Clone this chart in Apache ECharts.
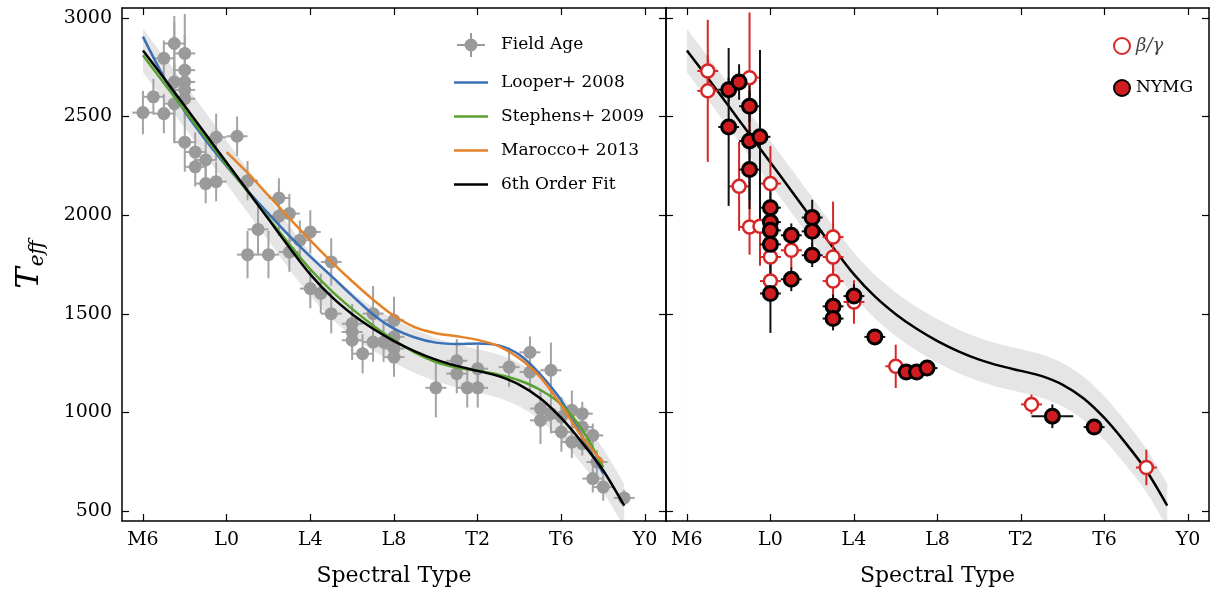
<!DOCTYPE html>
<html><head><meta charset="utf-8">
<script src="https://cdn.jsdelivr.net/npm/echarts@6/dist/echarts.min.js"></script>
<style>html,body{margin:0;padding:0;background:#fff}#c{width:1212px;height:594px}</style>
</head><body><div id="c"></div>
<script>
// ---- tick labels ----
const xTickValues = [6, 10, 14, 18, 22, 26, 30];
const xTickLabels = ['M6', 'L0', 'L4', 'L8', 'T2', 'T6', 'Y0'];
const yTickValues = [500, 1000, 1500, 2000, 2500, 3000];

// ---- field age sample (spectral type number: M6=6, L0=10, T0=20, Y0=30) ----
const fieldSpT = [6,6.5,7,7,7.5,7.5,7.5,8,8,8,8,8,8,8.5,8.5,9,9,9.5,9.5,10.5,11,12.5,12.5,13,11.5,11,12,13,14,13.5,15,14,14.5,15,16,16,16,17,17,16.5,17.5,18,18,18,18,20,21,21,21.5,22,22,23.5,24.5,24.5,25.5,25,25,25.5,26,26,26.5,26.5,27,27,27,27.5,27.7,27.5,28,29];
const fieldTeff = [2520,2600,2515,2795,2870,2675,2565,2820,2735,2675,2635,2590,2370,2320,2245,2280,2160,2170,2395,2400,2175,2087,1995,2008,1928,1800,1800,1813,1915,1873,1763,1628,1603,1501,1450,1408,1366,1501,1357,1298,1357,1467,1383,1324,1281,1125,1262,1197,1125,1222,1125,1230,1305,1205,1214,1020,960,994,977,901,1011,850,994,926,842,884,749,665,622,567];
const fieldSpTErr = [0.5,0.5,0.5,0.5,0.5,0.5,0.5,0.5,0.5,0.5,0.5,0.5,0.5,0.5,0.5,0.5,0.5,0.5,0.5,0.5,0.5,0.5,0.5,0.5,0.5,0.5,0.5,0.5,0.5,0.5,0.5,0.5,0.5,0.5,0.5,0.5,0.5,0.5,0.5,0.5,0.5,0.5,0.5,0.5,0.5,0.5,0.5,0.5,0.5,0.5,0.5,0.5,0.5,0.5,0.5,0.5,0.5,0.5,0.5,0.5,0.5,0.5,0.5,0.5,0.5,0.5,0.5,0.5,0.5,0.5];
const fieldTeffErr = [110,90,100,90,140,300,200,200,180,100,100,100,150,100,100,120,100,100,120,100,100,100,100,100,130,120,120,100,110,100,120,100,100,100,100,100,100,140,100,100,100,120,100,100,100,150,110,100,100,120,100,100,80,100,140,100,120,100,100,100,100,80,60,80,60,60,60,70,70,40];

// ---- published relations ----
const looperSpT = [6,7,8,9,10,11,12,13,14,15,16,17,18,19,20,21,22,23,24,25,26,27,28];
const looperTeff = [2905,2700,2525,2380,2248,2125,2008,1895,1790,1692,1592,1497,1425,1380,1354,1347,1350,1340,1292,1192,1060,875,690];
const stephensSpT = [6,7,8,9,10,11,12,13,14,15,16,17,18,19,20,21,22,23,24,25,26,27,28];
const stephensTeff = [2810,2670,2530,2392,2255,2120,1985,1852,1726,1618,1525,1441,1367,1303,1256,1228,1212,1192,1162,1114,1040,912,722];
const maroccoSpT = [10,11,12,13,14,15,16,17,18,19,20,21,22,23,24,25,26,27,28];
const maroccoTeff = [2320,2215,2100,1985,1872,1765,1665,1572,1490,1432,1402,1386,1368,1336,1273,1178,1035,875,745];

// ---- 6th order fit and its scatter band ----
const fitSpT = [6,7,8,9,10,11,12,13,14,15,16,17,18,19,20,21,22,23,24,25,26,27,28,29];
const fitTeff = [2835,2695,2553,2410,2267,2124,1980,1836,1700,1588,1498,1424,1362,1310,1268,1236,1211,1184,1140,1071,971,846,706,528];
const bandUpper = [2945,2805,2663,2520,2377,2234,2090,1946,1810,1698,1608,1534,1472,1420,1378,1346,1321,1294,1250,1181,1081,956,816,638];
const bandLower = [2725,2585,2443,2300,2157,2014,1870,1726,1590,1478,1388,1314,1252,1200,1158,1126,1101,1074,1030,961,861,736,596,418];

// ---- low gravity objects ----
const bgSpT = [7,7,9,8.5,10,9,9.5,13,13,10,10,11,13,14,16,22.5,28];
const bgTeff = [2731,2630,2697,2146,2160,1940,1944,1889,1788,1788,1666,1822,1666,1560,1234,1041,721];
const bgSpTErr = [0.5,0.5,0.5,0.5,0.5,0.5,0.5,0.5,0.5,0.5,0.5,0.5,0.5,0.5,0.5,0.5,0.5];
const bgTeffErr = [80,360,330,225,190,140,200,180,100,100,100,90,100,110,110,50,90];

const nymgSpT = [8,8.5,9,8,9,9.5,9,10,10,10,10,10,11,11,12,12,12,13,13,14,15,16.5,17,17.5,23.5,25.5];
const nymgTeff = [2636,2675,2552,2447,2376,2397,2231,2038,1965,1923,1852,1603,1898,1675,1988,1918,1797,1538,1476,1590,1383,1205,1205,1225,981,926];
const nymgSpTErr = [0.5,0.5,0.5,0.5,0.5,0.5,0.5,0.5,0.5,0.5,0.5,0.5,0.5,0.5,0.5,0.5,0.5,0.5,0.5,0.5,0.5,0.5,0.5,0.5,1,0.5];
const nymgTeffErr = [60,90,80,400,300,440,200,100,100,100,100,200,60,60,90,80,60,60,60,60,40,30,30,30,60,30];

const FONT = 'DejaVu Serif';
const zip = (a, b) => a.map((v, i) => [v, b[i]]);

function errSeries(xi, yi, xs, ys, xe, ye, color) {
  return {
    type: 'custom', xAxisIndex: xi, yAxisIndex: yi, silent: true, clip: true,
    data: xs.map((x, i) => [x, ys[i], xe[i], ye[i]]),
    encode: { x: 0, y: 1 },
    renderItem(params, api) {
      const x = api.value(0), y = api.value(1), dx = api.value(2), dy = api.value(3);
      const a = api.coord([x - dx, y]), b = api.coord([x + dx, y]);
      const c = api.coord([x, y - dy]), d = api.coord([x, y + dy]);
      return { type: 'group', children: [
        { type: 'line', shape: { x1: a[0], y1: a[1], x2: b[0], y2: b[1] }, style: { stroke: color, lineWidth: 2 } },
        { type: 'line', shape: { x1: c[0], y1: c[1], x2: d[0], y2: d[1] }, style: { stroke: color, lineWidth: 2 } }
      ] };
    }
  };
}
function bandSeries(xi, yi, vals, color) {
  return { type: 'line', xAxisIndex: xi, yAxisIndex: yi, data: zip(fitSpT, vals), smooth: 0.3,
    symbol: 'none', silent: true, lineStyle: { width: 0, opacity: 0 },
    areaStyle: { color: color, opacity: 1, origin: 'start' }, z: 1 };
}
function curve(name, xs, ys, color, xi, yi) {
  return { name, type: 'line', xAxisIndex: xi, yAxisIndex: yi, data: zip(xs, ys), smooth: 0.3,
    symbol: 'none', lineStyle: { color, width: 2.5 }, itemStyle: { color }, z: 4 };
}
function xAx(grid, pos, labels) {
  return { type: 'value', gridIndex: grid, position: pos, min: 5, max: 31, z: 6,
    axisLine: { show: true, onZero: false, lineStyle: { color: '#000', width: 1.5 } },
    axisTick: { show: true, inside: true, length: 7, customValues: xTickValues, lineStyle: { color: '#000', width: 1.2 } },
    axisLabel: { show: labels, customValues: xTickValues, margin: 10, color: '#000', fontFamily: FONT, fontSize: 19,
      formatter: v => xTickLabels[xTickValues.indexOf(v)] },
    splitLine: { show: false },
    name: labels ? 'Spectral Type' : '', nameLocation: 'middle', nameGap: 44,
    nameTextStyle: { color: '#000', fontFamily: FONT, fontSize: 22 } };
}
function yAx(grid, pos, labels, name) {
  return { type: 'value', gridIndex: grid, position: pos, min: 450, max: 3050, z: 6,
    axisLine: { show: true, onZero: false, lineStyle: { color: '#000', width: 1.5 } },
    axisTick: { show: true, inside: true, length: 7, customValues: yTickValues, lineStyle: { color: '#000', width: 1.2 } },
    axisLabel: { show: labels, customValues: yTickValues, margin: 10, color: '#000', fontFamily: FONT, fontSize: 19,
      formatter: v => String(v) },
    splitLine: { show: false },
    name: name || '', nameLocation: 'middle', nameGap: 74, nameRotate: 90,
    nameTextStyle: { color: '#000', rich: {
      T: { fontFamily: FONT, fontStyle: 'italic', fontSize: 32, lineHeight: 34 },
      s: { fontFamily: FONT, fontStyle: 'italic', fontSize: 20, padding: [17, 0, 0, 1], verticalAlign: 'bottom' } } } };
}

const fieldIcon = 'path://M0,11L7.6,11L7.6,13L0,13Z M20.4,11L28,11L28,13L20.4,13Z M13,0L15,0L15,5.6L13,5.6Z M13,18.4L15,18.4L15,24L13,24Z M7.5,12A6.5,6.5,0,1,1,20.5,12A6.5,6.5,0,1,1,7.5,12Z';
const lineIcon = 'path://M0,0L34,0L34,2.5L0,2.5Z';

const chart = echarts.init(document.getElementById('c'), null, { renderer: 'canvas' });
chart.setOption({
  animation: false,
  backgroundColor: '#fff',
  grid: [
    { left: 122, right: 546, top: 8, bottom: 73 },
    { left: 666, right: 3, top: 8, bottom: 73 }
  ],
  xAxis: [xAx(0, 'bottom', true), xAx(0, 'top', false), xAx(1, 'bottom', true), xAx(1, 'top', false)],
  yAxis: [yAx(0, 'left', true, '{T|T}{s|eff}'), yAx(0, 'right', false), yAx(1, 'left', false), yAx(1, 'right', false)],
  legend: [
    { left: 449, top: 28, orient: 'vertical', itemWidth: 34, itemHeight: 24, itemGap: 17,
      textStyle: { color: '#000', fontFamily: FONT, fontSize: 17, padding: [0, 0, 0, 8] },
      data: [{ name: 'Field Age', icon: fieldIcon },
             { name: 'Looper+ 2008', icon: lineIcon }, { name: 'Stephens+ 2009', icon: lineIcon },
             { name: 'Marocco+ 2013', icon: lineIcon }, { name: '6th Order Fit', icon: lineIcon }] },
    { left: 1108, top: 32, orient: 'vertical', itemWidth: 18, itemHeight: 16, itemGap: 24,
      textStyle: { color: '#000', fontFamily: FONT, fontSize: 17,
        rich: { it: { fontFamily: FONT, fontStyle: 'italic', fontSize: 18, color: '#444' } } },
      formatter: n => n === 'β/γ' ? '{it|β/γ}' : n,
      data: [{ name: 'β/γ', icon: 'circle' }, { name: 'NYMG', icon: 'circle' }] }
  ],
  graphic: [
    { type: 'text', left: 162, top: 454, style: { text: '(a) Field Age Sequence', fill: '#000', font: '19px "DejaVu Serif"' } },
    { type: 'text', left: 705, top: 428, style: { text: '(b) Low Gravity Objects\nwith Field Age Sequence', fill: '#000', font: '19px "DejaVu Serif"', lineHeight: 26 } }
  ],
  series: [
    bandSeries(0, 0, bandUpper, '#e5e5e5'),
    bandSeries(0, 0, bandLower, '#ffffff'),
    Object.assign(errSeries(0, 0, fieldSpT, fieldTeff, fieldSpTErr, fieldTeffErr, '#a3a3a3'), { z: 2 }),
    { name: 'Field Age', type: 'scatter', xAxisIndex: 0, yAxisIndex: 0, data: zip(fieldSpT, fieldTeff),
      symbol: 'circle', symbolSize: 13, itemStyle: { color: '#9a9a9a', opacity: 1 }, z: 3 },
    curve('Looper+ 2008', looperSpT, looperTeff, '#3b6fb6', 0, 0),
    curve('Stephens+ 2009', stephensSpT, stephensTeff, '#58a030', 0, 0),
    curve('Marocco+ 2013', maroccoSpT, maroccoTeff, '#e5832b', 0, 0),
    curve('6th Order Fit', fitSpT, fitTeff, '#000000', 0, 0),

    bandSeries(2, 2, bandUpper, '#e5e5e5'),
    bandSeries(2, 2, bandLower, '#ffffff'),
    curve('fit (b)', fitSpT, fitTeff, '#000000', 2, 2),
    Object.assign(errSeries(2, 2, bgSpT, bgTeff, bgSpTErr, bgTeffErr, '#d62728'), { z: 5 }),
    { name: 'β/γ', type: 'scatter', xAxisIndex: 2, yAxisIndex: 2, data: zip(bgSpT, bgTeff),
      symbol: 'circle', symbolSize: 13, itemStyle: { color: '#ffffff', borderColor: '#d62728', borderWidth: 2.5, opacity: 1 }, z: 5 },
    Object.assign(errSeries(2, 2, nymgSpT, nymgTeff, nymgSpTErr, nymgTeffErr, '#111111'), { z: 5 }),
    { name: 'NYMG', type: 'scatter', xAxisIndex: 2, yAxisIndex: 2, data: zip(nymgSpT, nymgTeff),
      symbol: 'circle', symbolSize: 14, itemStyle: { color: '#d01c1f', borderColor: '#000000', borderWidth: 3, opacity: 1 }, z: 5 }
  ]
});
</script></body></html>
